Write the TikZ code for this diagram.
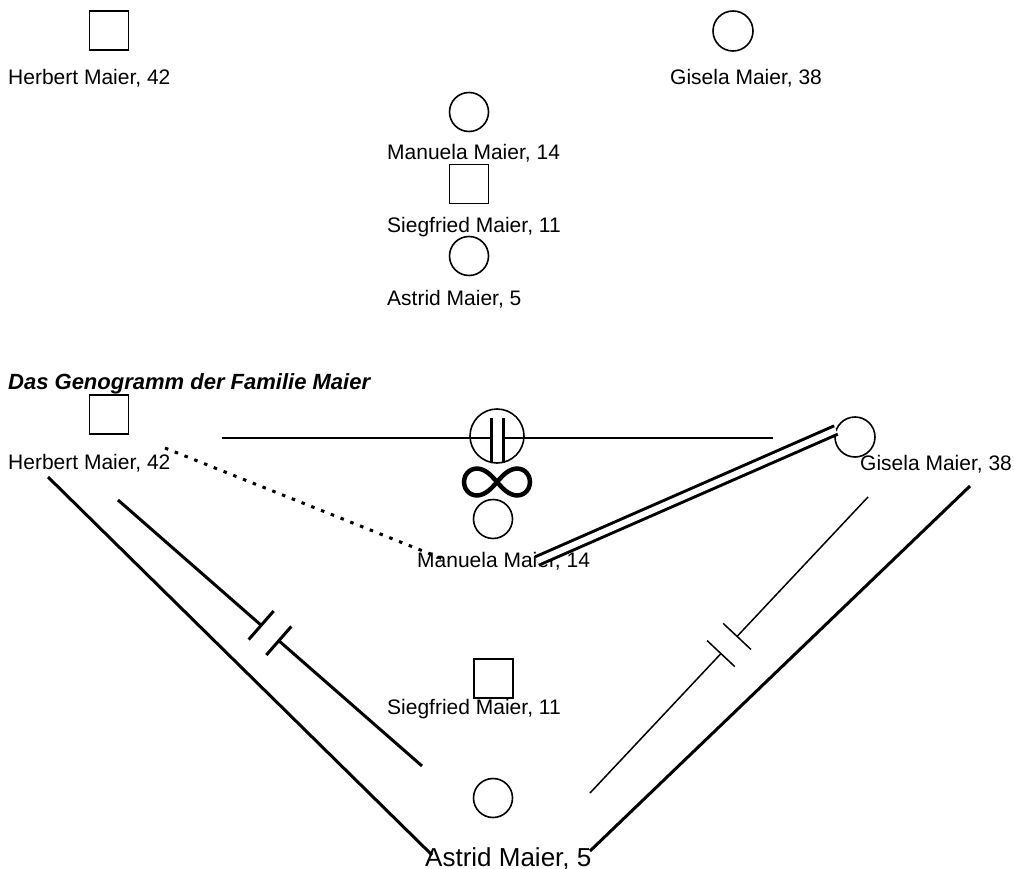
\documentclass[tikz,border=0pt]{standalone}
\usepackage{fontspec}
\setmainfont{Liberation Sans}
\usetikzlibrary{calc}

\begin{document}
\begin{tikzpicture}[
        x=1pt, y=-1pt, % pixel grid, y runs downwards
        every node/.style={font=\fontsize{21}{25}\selectfont, inner sep=0pt},
        male/.style={draw, rectangle, minimum size=39pt, line width=1.6pt},
        female/.style={draw, circle, minimum size=39pt, line width=1.6pt},
        nametag/.style={anchor=base west},
        tie/.style={line width=3pt},
        thintie/.style={line width=1.5pt}
    ]
        \useasboundingbox (0,0) rectangle (1014,869);

        % Family members (list)
        \node[male] (H_top) at (109,30.5) {};
        \node[nametag] (H_top_txt) at (8,85) {Herbert Maier, 42};
        \node[female, minimum size=40pt] (G_top) at (733,31) {};
        \node[nametag] (G_top_txt) at (670,85) {Gisela Maier, 38};
        \node[female] (M_top) at (469,112) {};
        \node[nametag] (M_top_txt) at (387,160) {Manuela Maier, 14};
        \node[male] (S_top) at (469,184) {};
        \node[nametag] (S_top_txt) at (387,233) {Siegfried Maier, 11};
        \node[female] (A_top) at (469,256) {};
        \node[nametag] (A_top_txt) at (387,305) {Astrid Maier, 5};

        % Genogram
        \node[nametag, font=\fontsize{22}{26}\selectfont\bfseries\itshape] (title) at (8,389) {Das Genogramm der Familie Maier};

        \node[male] (H_bot) at (109,414.5) {};
        \node[nametag] (H_bot_txt) at (8,469) {Herbert Maier, 42};
        \node[female, minimum size=40pt] (G_bot) at (855,437) {};
        \node[nametag] (G_bot_txt) at (860,470) {Gisela Maier, 38};
        \node[female, minimum size=54pt] (divorce) at (497,436) {};
        \node[female] (M_bot) at (493,519) {};
        \node[nametag] (M_bot_txt) at (417,567) {Manuela Maier, 14};
        \node[male] (S_bot) at (493.5,678.5) {};
        \node[nametag] (S_bot_txt) at (387,714) {Siegfried Maier, 11};
        \node[female] (A_bot) at (493,798) {};
        \node[nametag, font=\fontsize{26}{30}\selectfont] (A_bot_txt) at (425,866) {Astrid Maier, 5};

        % Define coordinates
        \coordinate (P_left) at (222,437.5); \coordinate (P_right) at (773,437.5);
        \coordinate (D_one) at (491,437.5); \coordinate (D_two) at (503,437.5);
        \coordinate (HM_a) at (165,448); \coordinate (HM_b) at (448,561);
        \coordinate (MG_a) at (537,561); \coordinate (MG_b) at (836,430);
        \coordinate (HA_out_a) at (48,477); \coordinate (HA_out_b) at (432,855);
        \coordinate (HA_in_a) at (118,500); \coordinate (HA_in_b) at (422,766);
        \coordinate (GA_in_a) at (868,497); \coordinate (GA_in_b) at (590,793);
        \coordinate (GA_out_a) at (970,486); \coordinate (GA_out_b) at (590,851);

        % Parents: divorced
        \draw[line width=2pt] (P_left) -- (D_one) (D_two) -- (P_right);
        \draw[tie] (D_one) ++(0,-19.5) -- ++(0,45);
        \draw[tie] (D_two) ++(0,-19.5) -- ++(0,45);

        % Infinity sign
        \draw[line width=4.5pt] plot[smooth cycle, domain=0:350, samples=36]
            ({497+33*cos(\x)/(1+sin(\x)^2)}, {482+38*sin(\x)*cos(\x)/(1+sin(\x)^2)});

        % Relations
        \draw[tie, dash pattern=on 3.5pt off 7pt] (HM_a) -- (HM_b);
        \draw[tie, double, double distance=6pt] (MG_a) -- (MG_b);
        \draw[tie] (HA_out_a) -- (HA_out_b);
        \draw[tie] (GA_out_a) -- (GA_out_b);

        % Broken relations
        \foreach \a/\b/\w in {HA_in_a/HA_in_b/tie, GA_in_a/GA_in_b/thintie} {
            \coordinate (g1) at ($(\a)!0.471!(\b)$);
            \coordinate (g2) at ($(\a)!0.529!(\b)$);
            \draw[\w] (\a) -- (g1) (g2) -- (\b);
            \draw[\w] ($(g1)!19pt!90:(\b)$) -- ($(g1)!19pt!-90:(\b)$);
            \draw[\w] ($(g2)!19pt!90:(\b)$) -- ($(g2)!19pt!-90:(\b)$);
        }

    \end{tikzpicture}
\end{document}
